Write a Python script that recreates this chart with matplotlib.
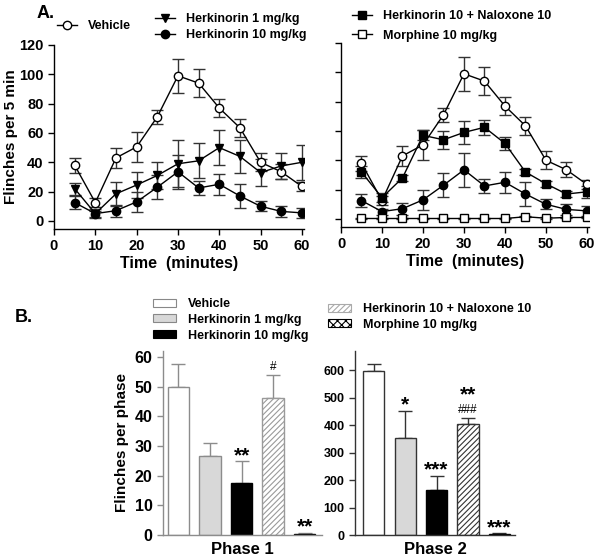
import matplotlib
matplotlib.use("Agg")
import matplotlib.pyplot as plt
import numpy as np
from matplotlib.patches import Patch

plt.rcParams['font.family'] = ['Liberation Sans', 'DejaVu Sans']
plt.rcParams['font.weight'] = 'bold'
plt.rcParams['hatch.linewidth'] = 0.8

# ---------------- Data: panel A (time course) ----------------
time = [5, 10, 15, 20, 25, 30, 35, 40, 45, 50, 55, 60]
vehicle = [38, 12.5, 43, 50.5, 71, 99, 94, 77, 63.5, 40, 33.5, 23.5]
vehicle_err = [5, 3, 7, 10, 5, 11.5, 9.5, 6, 6, 6, 5, 3]
herk1 = [22, 5, 18.5, 24.5, 31, 39, 41, 50, 44, 33, 37.5, 40]
herk1_err = [4, 3, 8, 9, 9, 16, 12, 12, 11, 9, 9, 12]
herk10 = [12.5, 5, 7, 13, 23, 33.5, 22.5, 25, 17, 10, 6.5, 5.5]
herk10_err = [4.5, 2, 4, 7, 8, 11.5, 4.5, 7, 8, 3.5, 4, 3.5]
naloxone = [32, 14.5, 28, 57, 54, 59, 62.5, 51.5, 32, 24, 17, 18.5]
naloxone_err = [4, 3, 2, 3.5, 6, 8, 5, 4.5, 2, 2, 2, 4]
morphine = [0.3, 0.3, 0.3, 0.3, 0.3, 0.3, 0.3, 0.3, 1.5, 0.5, 1, 1]
morphine_err = [0.5, 0.5, 0.5, 0.5, 0.5, 0.5, 0.5, 0.5, 0.5, 0.5, 0.5, 0.5]

# ---------------- Data: panel B (phases) ----------------
groups = ["Vehicle", "Herkinorin 1 mg/kg", "Herkinorin 10 mg/kg",
          "Herkinorin 10 + Naloxone 10", "Morphine 10 mg/kg"]
phase1 = [50, 26.5, 17.5, 46, 0.5]
phase1_err = [7.5, 4.5, 7.5, 8, 0.3]
phase1_stars = ["", "", "**", "", "**"]
phase1_hash = ["", "", "", "#", ""]
phase2 = [597, 355, 163, 405, 4]
phase2_err = [25, 98, 53, 20, 2]
phase2_stars = ["", "*", "***", "**", "***"]
phase2_hash = ["", "", "", "###", ""]

W, H = 601, 559
fig = plt.figure(figsize=(W / 100, H / 100), dpi=100)


def px_axes(x0, y0, x1, y1):
    return fig.add_axes([x0 / W, 1 - y1 / H, (x1 - x0) / W, (y1 - y0) / H])


ebkw = dict(capsize=4, elinewidth=1, capthick=1, ecolor='#333333')
mk = 6


def style_axA(ax, labels=True):
    for s in ['top', 'right']:
        ax.spines[s].set_visible(False)
    for s in ['left', 'bottom']:
        ax.spines[s].set_linewidth(1.0)
    ax.set_xlim(0, 60.5)
    ax.set_ylim(-5.5, 120)
    ax.set_xticks([0, 10, 20, 30, 40, 50, 60])
    ax.set_yticks([0, 20, 40, 60, 80, 100, 120])
    ax.tick_params(direction='out', length=4, width=1, labelsize=10.5)
    if not labels:
        ax.set_yticklabels([])
    ax.set_xlabel("Time  (minutes)", fontsize=11.5, fontweight='bold', labelpad=2)


# Panel A left
axL = px_axes(54, 45, 304, 229)
l_veh = axL.errorbar(time, vehicle, yerr=vehicle_err, fmt='-o', color='black', mfc='white',
                     mec='black', ms=mk, lw=1, zorder=3, **ebkw)
l_h1 = axL.errorbar(time, herk1, yerr=herk1_err, fmt='-v', color='black', mfc='black',
                    ms=mk, lw=1, zorder=3, **ebkw)
l_h10 = axL.errorbar(time, herk10, yerr=herk10_err, fmt='-o', color='black', mfc='black',
                     ms=mk, lw=1, zorder=3, **ebkw)
style_axA(axL)
axL.set_ylabel("Flinches per 5 min", fontsize=11, fontweight='bold', labelpad=1)

# Panel A right
axR = px_axes(341, 43, 589, 227)
axR.errorbar(time, vehicle, yerr=vehicle_err, fmt='-o', color='black', mfc='white',
             mec='black', ms=mk, lw=1, zorder=3, **ebkw)
l_nal = axR.errorbar(time, naloxone, yerr=naloxone_err, fmt='-s', color='black', mfc='black',
                     ms=mk, lw=1, zorder=3, **ebkw)
axR.errorbar(time, herk10, yerr=herk10_err, fmt='-o', color='black', mfc='black',
             ms=mk, lw=1, zorder=3, **ebkw)
l_mor = axR.errorbar(time, morphine, yerr=morphine_err, fmt='-s', color='black', mfc='white',
                     mec='black', ms=mk, lw=1, zorder=3, **ebkw)
style_axA(axR, labels=False)

legkw = dict(frameon=False, handlelength=1.6, handletextpad=0.9,
             borderpad=0, borderaxespad=0,
             prop={'weight': 'bold', 'size': 9})
fig.legend(handles=[l_veh[0]], labels=["Vehicle"], loc='upper left',
           bbox_to_anchor=(57 / W, 1 - 20 / H), labelspacing=0.25, **legkw)
fig.legend(handles=[l_h1[0], l_h10[0]], labels=["Herkinorin 1 mg/kg", "Herkinorin 10 mg/kg"],
           loc='upper left', bbox_to_anchor=(155 / W, 1 - 13 / H), labelspacing=0.35, **legkw)
fig.legend(handles=[l_nal[0], l_mor[0]], labels=["Herkinorin 10 + Naloxone 10", "Morphine 10 mg/kg"],
           loc='upper left', bbox_to_anchor=(352 / W, 1 - 10 / H), labelspacing=0.6, **legkw)

fig.text(37 / W, 1 - 13 / H, "A.", fontsize=13, fontweight='bold', va='center', ha='left')
fig.text(15 / W, 1 - 318 / H, "B.", fontsize=13, fontweight='bold', va='center', ha='left')

# ---------------- Panel B ----------------
faces = ['white', '#d8d8d8', 'black', 'white', 'white']
hatches = [None, None, None, '//////', 'xxxx']
x = np.arange(len(groups))


def draw_phase(ax, vals, errs, stars, hashes, edge, hatch_col, ylim, yticks, tick_fs, name):
    for i in range(len(vals)):
        ec = edge
        if i == 3:
            ec = hatch_col
        if i in (2, 4):
            ec = 'black'
        ax.bar(x[i], vals[i], width=0.68, color=faces[i], edgecolor=ec,
               hatch=hatches[i], linewidth=1.0, zorder=2)
    ax.errorbar(x, vals, yerr=[np.zeros(len(vals)), errs], fmt='none',
                ecolor=edge, elinewidth=1, capsize=5, capthick=1, zorder=1)
    for i in range(len(vals)):
        top = vals[i] + errs[i]
        off = 0
        if hashes[i]:
            ax.annotate(hashes[i], xy=(x[i], top), xytext=(0, 1.5),
                        textcoords='offset points', ha='center', va='bottom',
                        fontsize=8.5, fontweight='normal')
            off = 13
        if stars[i]:
            ax.annotate(stars[i], xy=(x[i], top), xytext=(0, -3 + off),
                        textcoords='offset points', ha='center', va='bottom',
                        fontsize=15, fontweight='bold')
    for s in ['top', 'right']:
        ax.spines[s].set_visible(False)
    for s in ['left', 'bottom']:
        ax.spines[s].set_color(edge)
        ax.spines[s].set_linewidth(1.0)
    ax.set_ylim(*ylim)
    ax.set_yticks(yticks)
    ax.set_xticks([])
    ax.tick_params(axis='y', direction='out', length=4, width=1, color=edge,
                   labelsize=tick_fs)
    ax.set_xlabel(name, fontsize=12, fontweight='bold', labelpad=5)


axB1 = px_axes(163, 351, 322, 535)
axB1.set_xlim(-0.49, 4.55)
draw_phase(axB1, phase1, phase1_err, phase1_stars, phase1_hash, '#8c8c8c', '#9a9a9a',
           (0, 62), [0, 10, 20, 30, 40, 50, 60], 11.5, "Phase 1")
axB1.set_ylabel("Flinches per phase", fontsize=11, fontweight='bold', labelpad=4)

axB2 = px_axes(355, 351, 515, 535)
axB2.set_xlim(-0.6, 4.5)
draw_phase(axB2, phase2, phase2_err, phase2_stars, phase2_hash, '#333333', '#333333',
           (0, 670), [0, 100, 200, 300, 400, 500, 600], 9, "Phase 2")

# Legend for panel B
legB = dict(frameon=False, handlelength=1.8, handleheight=0.6, handletextpad=1.0,
            borderpad=0, borderaxespad=0, labelspacing=0.3,
            prop={'weight': 'bold', 'size': 9})
hB = [Patch(facecolor=faces[i], edgecolor=('#888888' if i < 2 else 'black'),
            hatch=hatches[i], linewidth=0.8) for i in range(5)]
hB[3] = Patch(facecolor='white', edgecolor='#aaaaaa', hatch='//////', linewidth=0.8)
fig.legend(handles=hB[:3], labels=groups[:3], loc='upper left',
           bbox_to_anchor=(153 / W, 1 - 298 / H), **legB)
fig.legend(handles=hB[3:], labels=groups[3:], loc='upper left',
           bbox_to_anchor=(328 / W, 1 - 303 / H), **legB)

fig.savefig("out.png", dpi=100)
